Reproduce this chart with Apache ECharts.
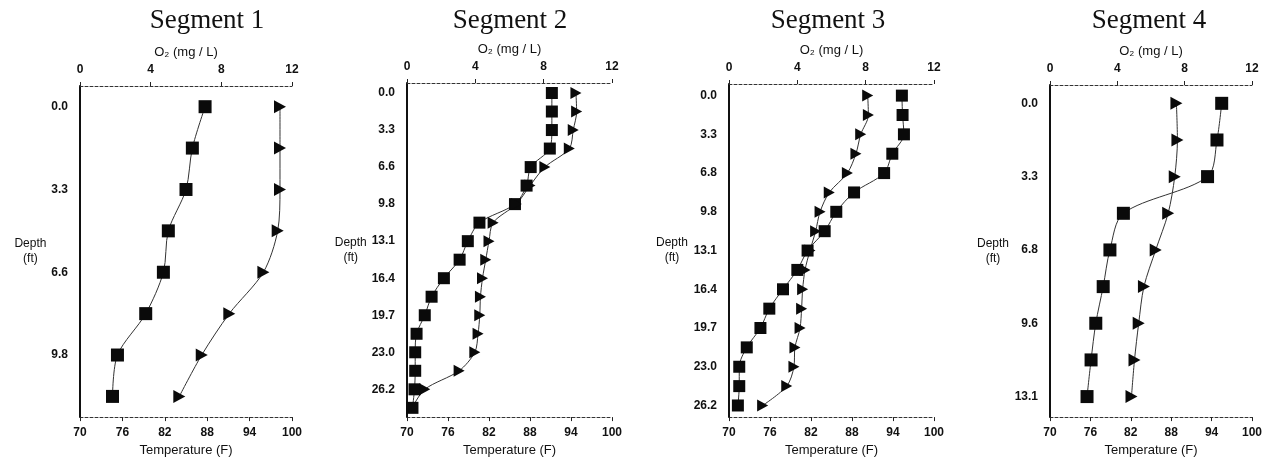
<!DOCTYPE html>
<html>
<head>
<meta charset="utf-8">
<script src="https://cdn.jsdelivr.net/npm/echarts@6/dist/echarts.min.js"></script>
<style>
html,body{margin:0;padding:0;background:#fff;}
#chart{width:1265px;height:462px;}
</style>
</head>
<body>
<div id="chart"></div>
<script>
// ---- data ----
const titles = ["Segment 1", "Segment 2", "Segment 3", "Segment 4"];
const tempTicks = [70, 76, 82, 88, 94, 100];
const o2Ticks = [0, 4, 8, 12];
const tempAxisName = "Temperature (F)";
const o2AxisName = "O\u2082 (mg / L)";
const depthAxisName = "Depth\n(ft)";

// depth tick positions (m) and their labels (ft)
const depthTickValues1 = [0, 1, 2, 3];
const depthTickLabels1 = ["0.0", "3.3", "6.6", "9.8"];
const depthTickValues2 = [0, 1, 2, 3, 4, 5, 6, 7, 8];
const depthTickLabels2 = ["0.0", "3.3", "6.6", "9.8", "13.1", "16.4", "19.7", "23.0", "26.2"];
const depthTickValues3 = [0, 1, 2, 3, 4, 5, 6, 7, 8];
const depthTickLabels3 = ["0.0", "3.3", "6.8", "9.8", "13.1", "16.4", "19.7", "23.0", "26.2"];
const depthTickValues4 = [0, 1, 2, 3, 4];
const depthTickLabels4 = ["0.0", "3.3", "6.8", "9.6", "13.1"];

// sampling depths (m)
const depth1 = [0, 0.5, 1, 1.5, 2, 2.5, 3, 3.5];
const depth2 = [0, 0.5, 1, 1.5, 2, 2.5, 3, 3.5, 4, 4.5, 5, 5.5, 6, 6.5, 7, 7.5, 8, 8.5];
const depth3 = [0, 0.5, 1, 1.5, 2, 2.5, 3, 3.5, 4, 4.5, 5, 5.5, 6, 6.5, 7, 7.5, 8];
const depth4 = [0, 0.5, 1, 1.5, 2, 2.5, 3, 3.5, 4];

// temperature (F) - squares
const temp1 = [87.7, 85.9, 85.0, 82.5, 81.8, 79.3, 75.3, 74.6];
const temp2 = [91.2, 91.2, 91.2, 90.9, 88.1, 87.5, 85.8, 80.6, 78.9, 77.7, 75.4, 73.6, 72.6, 71.4, 71.2, 71.2, 71.1, 70.8];
const temp3 = [95.3, 95.4, 95.6, 93.9, 92.7, 88.3, 85.7, 84.0, 81.5, 80.0, 77.9, 75.9, 74.6, 72.6, 71.5, 71.5, 71.3];
const temp4 = [95.5, 94.8, 93.4, 80.9, 78.9, 77.9, 76.8, 76.1, 75.5];

// dissolved oxygen (mg/L) - triangles
const o2_1 = [11.32, 11.32, 11.32, 11.19, 10.38, 8.45, 6.89, 5.62];
const o2_2 = [9.89, 9.93, 9.73, 9.5, 8.07, 7.2, 6.4, 5.04, 4.8, 4.61, 4.42, 4.3, 4.26, 4.16, 3.97, 3.05, 1.04, 0.3];
const o2_3 = [8.12, 8.16, 7.71, 7.43, 6.93, 5.87, 5.33, 5.07, 4.74, 4.45, 4.31, 4.25, 4.16, 3.86, 3.8, 3.38, 1.97];
const o2_4 = [7.51, 7.57, 7.41, 7.02, 6.28, 5.58, 5.27, 5.02, 4.84];

// ---- layout (styles) ----
const panels = [
  {grid: {left: 80, top: 86, width: 212, height: 334}, yMin: -0.25, yMax: 3.75, titleX: 202, nameGap: 49,
   depth: depth1, temp: temp1, o2: o2_1, tv: depthTickValues1, tl: depthTickLabels1, sym: 13},
  {grid: {left: 407, top: 83, width: 205, height: 337}, yMin: -0.27, yMax: 8.75, titleX: 505, nameGap: 55,
   depth: depth2, temp: temp2, o2: o2_2, tv: depthTickValues2, tl: depthTickLabels2, sym: 12},
  {grid: {left: 729, top: 84, width: 205, height: 336}, yMin: -0.3, yMax: 8.3, titleX: 823, nameGap: 57,
   depth: depth3, temp: temp3, o2: o2_3, tv: depthTickValues3, tl: depthTickLabels3, sym: 12},
  {grid: {left: 1050, top: 85, width: 205, height: 337}, yMin: -0.25, yMax: 4.28, titleX: 1144, nameGap: 57,
   depth: depth4, temp: temp4, o2: o2_4, tv: depthTickValues4, tl: depthTickLabels4, sym: 13}
];

const FONT = "'Liberation Sans', Arial, sans-serif";
const tickLabelStyle = {fontFamily: FONT, fontSize: 12, fontWeight: 'bold', color: '#111'};
const dashedAxis = {show: true, onZero: false, lineStyle: {color: '#333', width: 1, type: [3, 2]}};

const option = {
  backgroundColor: '#fff',
  animation: false,
  title: [], grid: [], xAxis: [], yAxis: [], series: []
};

panels.forEach((p, i) => {
  option.title.push({
    text: titles[i], left: p.titleX, top: 2, textAlign: 'center',
    textStyle: {fontFamily: "'Liberation Serif', 'Times New Roman', serif", fontSize: 27, fontWeight: 'normal', color: '#111'}
  });
  option.grid.push(Object.assign({containLabel: false}, p.grid));
  // bottom: temperature
  option.xAxis.push({
    type: 'value', gridIndex: i, position: 'bottom', min: tempTicks[0], max: tempTicks[tempTicks.length - 1],
    name: tempAxisName, nameLocation: 'middle', nameGap: 25,
    nameTextStyle: {fontFamily: FONT, fontSize: 13, color: '#111'},
    axisLine: dashedAxis,
    axisTick: {show: true, length: 4, customValues: tempTicks, lineStyle: {color: '#222'}},
    axisLabel: Object.assign({customValues: tempTicks, margin: 10}, tickLabelStyle),
    splitLine: {show: false}
  });
  // top: oxygen
  option.xAxis.push({
    type: 'value', gridIndex: i, position: 'top', min: o2Ticks[0], max: o2Ticks[o2Ticks.length - 1],
    name: o2AxisName, nameLocation: 'middle', nameGap: 21,
    nameTextStyle: {fontFamily: FONT, fontSize: 13, color: '#111'},
    axisLine: dashedAxis,
    axisTick: {show: true, length: 4, customValues: o2Ticks, lineStyle: {color: '#222'}},
    axisLabel: Object.assign({customValues: o2Ticks, margin: 10}, tickLabelStyle),
    splitLine: {show: false}
  });
  option.yAxis.push({
    type: 'value', gridIndex: i, inverse: true, min: p.yMin, max: p.yMax,
    name: depthAxisName, nameLocation: 'middle', nameGap: p.nameGap, nameRotate: 0,
    nameTextStyle: {fontFamily: FONT, fontSize: 12, color: '#111', align: 'center', verticalAlign: 'middle', lineHeight: 15},
    axisLine: {show: true, onZero: false, lineStyle: {color: '#111', width: 2}},
    axisTick: {show: false},
    axisLabel: Object.assign({
      customValues: p.tv, margin: 12,
      formatter: (v) => { const k = p.tv.indexOf(v); return k >= 0 ? p.tl[k] : ''; }
    }, tickLabelStyle),
    splitLine: {show: false}
  });
  option.series.push({
    name: 'Temperature', type: 'line', xAxisIndex: 2 * i, yAxisIndex: i,
    data: p.temp.map((t, k) => [t, p.depth[k]]),
    symbol: 'rect', symbolSize: p.sym, smooth: 0.3,
    itemStyle: {color: '#0a0a0a'},
    lineStyle: {color: '#333', width: 1}
  });
  option.series.push({
    name: 'O2', type: 'line', xAxisIndex: 2 * i + 1, yAxisIndex: i,
    data: p.o2.map((o, k) => [o, p.depth[k]]),
    symbol: 'triangle', symbolSize: [p.sym, p.sym - 1], symbolRotate: -90, smooth: 0.3,
    itemStyle: {color: '#0a0a0a'},
    lineStyle: {color: '#333', width: 1}
  });
});

const chart = echarts.init(document.getElementById('chart'), null, {renderer: 'canvas'});
chart.setOption(option);
</script>
</body>
</html>
